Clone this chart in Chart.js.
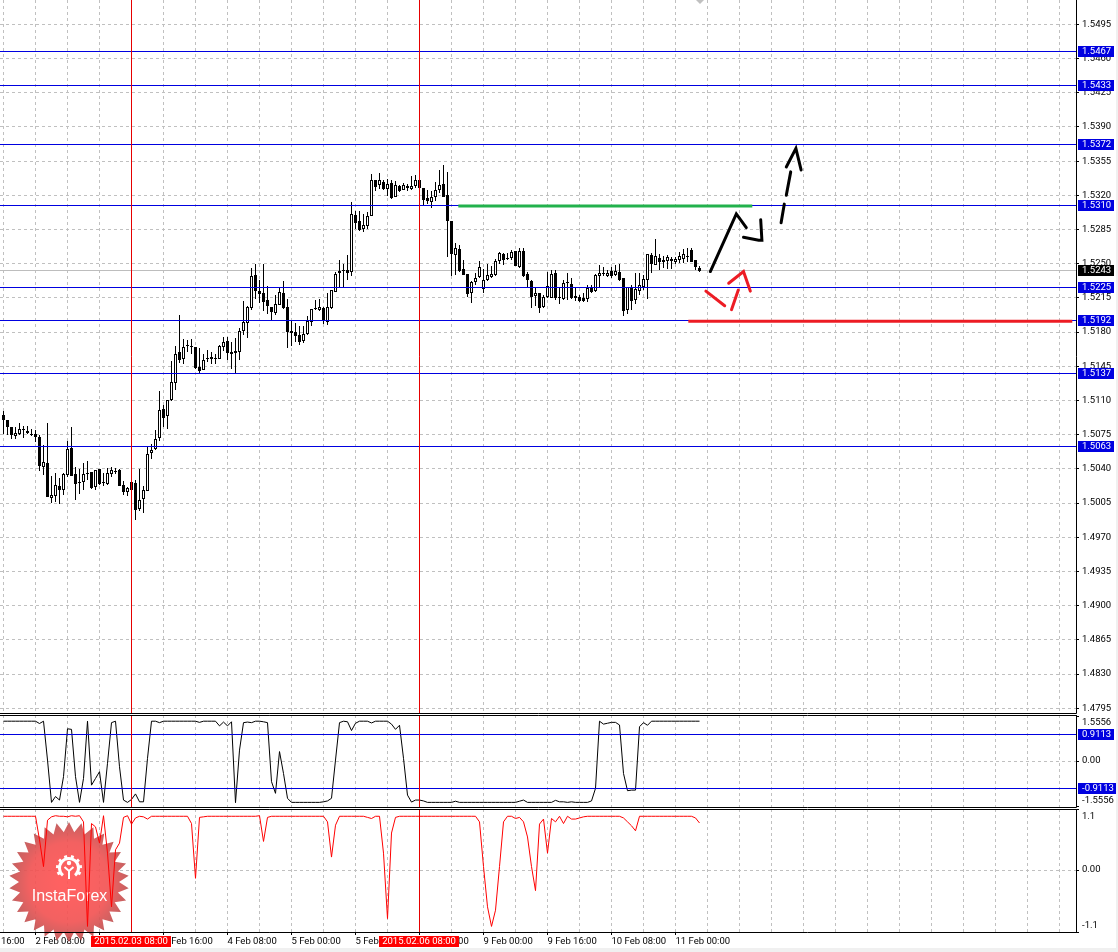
<!DOCTYPE html>
<html>
<head>
<meta charset="utf-8">
<title>GBP/USD H1</title>
<script src="https://cdn.jsdelivr.net/npm/chart.js@4"></script>
<style>
    html, body { margin: 0; padding: 0; background: #f0f0f0; }
    #page { position: relative; width: 1116px; height: 948px; background: #fff; overflow: hidden; }
    canvas { position: absolute; left: 0; }
</style>
</head>
<body>
<div id="page">
    <canvas id="price-chart" width="1118" height="714" style="top:0"></canvas>
    <canvas id="fisher-chart" width="1118" height="93" style="top:715px"></canvas>
    <canvas id="signal-chart" width="1118" height="143" style="top:809px"></canvas>
</div>
<script>
// Candles, one per hour
const opens = [
    1.5095,1.5090,1.5083,1.5074,1.5076,1.5080,1.5079,1.5076,1.5076,1.5073,
    1.5042,1.5046,1.5010,1.5012,1.5023,1.5018,1.5034,1.5061,1.5035,1.5027,
    1.5027,1.5036,1.5037,1.5022,1.5040,1.5027,1.5025,1.5035,1.5037,1.5039,
    1.5024,1.5016,1.5027,1.5026,1.4999,1.5009,1.5017,1.5056,1.5060,1.5072,
    1.5101,1.5094,1.5111,1.5128,1.5160,1.5152,1.5167,1.5166,1.5165,1.5144,
    1.5141,1.5152,1.5155,1.5154,1.5152,1.5165,1.5171,1.5160,1.5161,1.5160,
    1.5181,1.5189,1.5205,1.5238,1.5222,1.5220,1.5213,1.5206,1.5200,1.5208,
    1.5220,1.5206,1.5181,1.5180,1.5177,1.5171,1.5178,1.5190,1.5205,1.5203,
    1.5205,1.5190,1.5205,1.5221,1.5240,1.5244,1.5244,1.5242,1.5300,1.5294,
    1.5286,1.5289,1.5299,1.5336,1.5331,1.5334,1.5326,1.5333,1.5318,1.5330,
    1.5325,1.5330,1.5326,1.5330,1.5336,1.5328,1.5317,1.5313,1.5318,1.5325,
    1.5332,1.5320,1.5294,1.5259,1.5265,1.5245,1.5239,1.5220,1.5231,1.5236,
    1.5224,1.5233,1.5236,1.5238,1.5253,1.5260,1.5256,1.5256,1.5263,1.5247,
    1.5263,1.5239,1.5232,1.5217,1.5220,1.5206,1.5216,1.5215,1.5240,1.5216,
    1.5214,1.5231,1.5229,1.5217,1.5216,1.5215,1.5214,1.5225,1.5222,1.5237,
    1.5241,1.5237,1.5243,1.5238,1.5242,1.5235,1.5203,1.5226,1.5213,1.5222,
    1.5226,1.5233,1.5259,1.5249,1.5256,1.5254,1.5253,1.5255,1.5252,1.5254,
    1.5255,1.5258,1.5264,1.5254,1.5246
];
const highs = [
    1.5099,1.5090,1.5083,1.5083,1.5087,1.5084,1.5084,1.5081,1.5080,1.5075,
    1.5064,1.5087,1.5033,1.5036,1.5031,1.5036,1.5069,1.5083,1.5042,1.5040,
    1.5046,1.5048,1.5037,1.5039,1.5040,1.5036,1.5041,1.5042,1.5041,1.5040,
    1.5028,1.5021,1.5028,1.5029,1.5040,1.5023,1.5063,1.5066,1.5080,1.5120,
    1.5105,1.5111,1.5150,1.5166,1.5198,1.5173,1.5172,1.5173,1.5165,1.5164,
    1.5158,1.5162,1.5160,1.5158,1.5167,1.5175,1.5175,1.5170,1.5174,1.5184,
    1.5212,1.5207,1.5246,1.5250,1.5233,1.5250,1.5227,1.5206,1.5218,1.5226,
    1.5232,1.5214,1.5192,1.5189,1.5186,1.5186,1.5196,1.5204,1.5213,1.5214,
    1.5206,1.5220,1.5223,1.5242,1.5254,1.5250,1.5259,1.5313,1.5304,1.5304,
    1.5301,1.5303,1.5342,1.5336,1.5343,1.5336,1.5337,1.5336,1.5335,1.5331,
    1.5333,1.5332,1.5340,1.5341,1.5342,1.5328,1.5325,1.5324,1.5334,1.5346,
    1.5351,1.5344,1.5294,1.5271,1.5269,1.5254,1.5239,1.5232,1.5240,1.5253,
    1.5245,1.5250,1.5248,1.5255,1.5262,1.5261,1.5261,1.5264,1.5263,1.5266,
    1.5266,1.5242,1.5233,1.5226,1.5220,1.5218,1.5242,1.5244,1.5244,1.5226,
    1.5233,1.5240,1.5235,1.5225,1.5218,1.5220,1.5228,1.5228,1.5239,1.5249,
    1.5247,1.5244,1.5247,1.5249,1.5250,1.5235,1.5226,1.5228,1.5240,1.5240,
    1.5238,1.5260,1.5261,1.5275,1.5260,1.5258,1.5259,1.5257,1.5257,1.5262,
    1.5265,1.5266,1.5266,1.5254,1.5248
];
const lows = [
    1.5076,1.5075,1.5071,1.5071,1.5075,1.5072,1.5076,1.5074,1.5068,1.5038,
    1.5034,1.5011,1.5005,1.5006,1.5004,1.5013,1.5032,1.5033,1.5008,1.5014,
    1.5018,1.5029,1.5019,1.5018,1.5024,1.5023,1.5024,1.5032,1.5035,1.5023,
    1.5013,1.5012,1.5018,1.4988,1.4997,1.4995,1.5017,1.5050,1.5059,1.5069,
    1.5083,1.5081,1.5110,1.5121,1.5148,1.5147,1.5160,1.5158,1.5142,1.5138,
    1.5141,1.5149,1.5147,1.5147,1.5152,1.5161,1.5151,1.5142,1.5138,1.5151,
    1.5177,1.5174,1.5203,1.5214,1.5210,1.5202,1.5199,1.5192,1.5198,1.5208,
    1.5204,1.5164,1.5166,1.5170,1.5167,1.5169,1.5177,1.5186,1.5203,1.5202,
    1.5188,1.5187,1.5204,1.5221,1.5226,1.5226,1.5233,1.5237,1.5286,1.5284,
    1.5282,1.5286,1.5299,1.5324,1.5326,1.5325,1.5319,1.5316,1.5318,1.5323,
    1.5325,1.5324,1.5325,1.5327,1.5325,1.5310,1.5311,1.5307,1.5314,1.5322,
    1.5318,1.5257,1.5237,1.5238,1.5242,1.5238,1.5216,1.5210,1.5228,1.5235,
    1.5220,1.5232,1.5235,1.5237,1.5250,1.5249,1.5254,1.5254,1.5248,1.5246,
    1.5236,1.5225,1.5205,1.5207,1.5200,1.5205,1.5215,1.5215,1.5213,1.5209,
    1.5213,1.5213,1.5214,1.5212,1.5211,1.5211,1.5211,1.5220,1.5221,1.5226,
    1.5237,1.5236,1.5235,1.5237,1.5232,1.5196,1.5199,1.5203,1.5209,1.5218,
    1.5223,1.5214,1.5240,1.5249,1.5244,1.5246,1.5245,1.5245,1.5250,1.5251,
    1.5251,1.5252,1.5252,1.5244,1.5242
];
const closes = [
    1.5090,1.5083,1.5075,1.5077,1.5081,1.5081,1.5077,1.5076,1.5073,1.5043,
    1.5047,1.5011,1.5013,1.5024,1.5018,1.5035,1.5060,1.5033,1.5025,1.5026,
    1.5035,1.5035,1.5020,1.5039,1.5025,1.5026,1.5036,1.5039,1.5038,1.5023,
    1.5016,1.5020,1.5018,1.4998,1.5008,1.5018,1.5055,1.5059,1.5071,1.5100,
    1.5092,1.5111,1.5129,1.5158,1.5151,1.5165,1.5166,1.5165,1.5143,1.5140,
    1.5151,1.5154,1.5153,1.5152,1.5166,1.5170,1.5159,1.5158,1.5159,1.5181,
    1.5190,1.5206,1.5237,1.5222,1.5219,1.5211,1.5207,1.5201,1.5209,1.5221,
    1.5205,1.5180,1.5179,1.5176,1.5170,1.5178,1.5191,1.5204,1.5204,1.5206,
    1.5191,1.5206,1.5223,1.5239,1.5243,1.5243,1.5240,1.5301,1.5292,1.5285,
    1.5290,1.5299,1.5336,1.5329,1.5336,1.5326,1.5332,1.5317,1.5331,1.5324,
    1.5331,1.5327,1.5330,1.5336,1.5327,1.5315,1.5314,1.5318,1.5325,1.5331,
    1.5318,1.5294,1.5260,1.5266,1.5243,1.5238,1.5219,1.5231,1.5235,1.5247,
    1.5233,1.5238,1.5239,1.5253,1.5261,1.5254,1.5255,1.5262,1.5248,1.5263,
    1.5237,1.5233,1.5216,1.5220,1.5205,1.5216,1.5227,1.5239,1.5215,1.5215,
    1.5230,1.5230,1.5215,1.5215,1.5212,1.5212,1.5225,1.5221,1.5238,1.5240,
    1.5240,1.5241,1.5237,1.5243,1.5233,1.5202,1.5226,1.5212,1.5224,1.5228,
    1.5234,1.5260,1.5250,1.5258,1.5252,1.5252,1.5257,1.5253,1.5255,1.5258,
    1.5260,1.5257,1.5252,1.5247,1.5243
];

// Indicator panels
const fisherValues = [
    1.38,1.38,1.38,1.38,1.38,1.38,1.38,1.38,1.38,1.30,
    1.38,0.05,-1.40,-1.20,-1.32,-0.52,1.12,1.10,-0.52,-1.40,
    -0.58,1.38,-0.81,-0.58,-0.35,-1.40,-0.06,1.33,1.38,-0.18,
    -1.32,-1.40,-1.30,-1.11,-1.38,-1.38,0.11,1.38,1.38,1.33,
    1.38,1.38,1.38,1.38,1.38,1.38,1.38,1.38,1.38,1.34,
    1.38,1.38,1.38,1.38,1.22,1.35,1.22,1.36,-1.41,0.39,
    1.33,1.35,1.33,1.38,1.38,1.36,1.33,-0.69,-1.09,0.34,
    -0.41,-1.26,-1.40,-1.40,-1.40,-1.40,-1.40,-1.40,-1.40,-1.40,
    -1.38,-1.35,-1.26,0.05,1.33,1.38,1.36,1.06,1.31,1.38,
    1.38,1.38,1.32,1.38,1.38,1.38,1.38,1.28,1.10,1.24,
    0.11,-1.15,-1.39,-1.32,-1.32,-1.35,-1.40,-1.40,-1.40,-1.40,
    -1.40,-1.40,-1.40,-1.36,-1.40,-1.40,-1.40,-1.40,-1.40,-1.40,
    -1.40,-1.40,-1.40,-1.40,-1.40,-1.40,-1.40,-1.40,-1.40,-1.36,
    -1.32,-1.40,-1.40,-1.40,-1.40,-1.40,-1.40,-1.40,-1.33,-1.38,
    -1.38,-1.40,-1.38,-1.40,-1.40,-1.40,-1.40,-1.35,-0.92,1.38,
    1.28,1.31,1.34,1.34,1.25,-0.41,-1.00,-0.98,-0.98,1.19,
    1.33,1.24,1.38,1.38,1.38,1.38,1.38,1.38,1.38,1.38,
    1.38,1.38,1.38,1.38,1.38
];
const signalValues = [
    0.97,0.97,0.97,0.97,0.97,0.97,0.97,0.97,0.97,0.55,
    0.07,0.90,0.96,0.98,0.97,0.97,0.96,0.98,0.97,0.98,
    0.87,-1.00,0.84,0.78,0.49,0.98,0.31,-0.65,0.37,0.49,
    0.95,0.98,0.83,0.94,0.97,0.96,0.92,0.97,0.97,0.97,
    0.97,0.97,0.97,0.97,0.97,0.97,0.97,0.84,-0.14,0.95,
    0.96,0.97,0.97,0.97,0.97,0.97,0.97,0.97,0.97,0.97,
    0.97,0.97,0.97,0.97,0.98,0.52,0.95,0.97,0.97,0.97,
    0.97,0.97,0.97,0.97,0.97,0.97,0.97,0.97,0.97,0.97,
    0.97,0.87,0.24,0.81,0.97,0.97,0.97,0.97,0.97,0.97,
    0.97,0.95,0.93,0.97,0.97,0.31,-0.86,0.67,0.95,0.97,
    0.97,0.97,0.97,0.97,0.97,0.97,0.97,0.97,0.97,0.97,
    0.97,0.97,0.97,0.97,0.97,0.97,0.97,0.97,0.97,0.87,
    0.07,-0.65,-1.00,-0.71,0.07,0.87,0.97,0.97,0.93,0.95,
    0.87,0.60,0.07,-0.36,0.83,0.92,0.31,0.93,0.87,0.97,
    0.84,0.97,0.92,0.92,0.94,0.96,0.97,0.97,0.97,0.97,
    0.97,0.97,0.97,0.97,0.97,0.94,0.87,0.80,0.71,0.97,
    0.97,0.97,0.97,0.97,0.97,0.97,0.97,0.97,0.97,0.97,
    0.97,0.97,0.97,0.94,0.85
];

// Axis ticks
const priceTicks = [1.5495,1.5460,1.5425,1.5390,1.5355,1.5320,1.5285,1.5250,1.5215,1.5180,1.5145,1.5110,1.5075,1.5040,1.5005,1.4970,1.4935,1.4900,1.4865,1.4830,1.4795];
const fisherTicks = [1.5556, 0, -1.5556];
const signalTicks = [1.1, 0, -1.1];
const timeTickIndex = [8,24,40,56,72,88,104,120,136,152,168];
const timeTickLabels = ['2 Feb 08:00','3 Feb 00:00','3 Feb 16:00','4 Feb 08:00','5 Feb 00:00','5 Feb 16:00','6 Feb 08:00','9 Feb 00:00','9 Feb 16:00','10 Feb 08:00','11 Feb 00:00'];
const crossIndex = [32, 104];
const crossLabels = ['2015.02.03 08:00', '2015.02.06 08:00'];

// Horizontal levels and hand drawn marks
const priceLevels = [1.5467,1.54328,1.5372,1.5310,1.52254,1.5192,1.51374,1.5063];
const fisherLevels = [0.9113,-0.9113];
const lastPrice = 1.5243;
const greenLine = [[113.7,1.5309],[187.2,1.5309]];
const redLine = [[171.2,1.5191],[267.2,1.5191]];
const blackStrokes = [
    [[176.7,1.5242],[183.2,1.5301],[185.7,1.5287]],
    [[185.0,1.5277],[188.8,1.5274],[189.6,1.5274],[189.3,1.5295]],
    [[194.4,1.5292],[195.2,1.5311]],
    [[195.7,1.5320],[196.8,1.5344]],
    [[195.7,1.5349],[198.1,1.5368],[199.4,1.5346]]
];
const redStrokes = [
    [[175.6,1.5222],[180.3,1.5207]],
    [[182.0,1.5203],[183.7,1.5223]],
    [[181.3,1.5230],[185.0,1.5242],[186.7,1.5222]]
];

const FONT = 'Roboto';
const FONT_SIZE = 9.5;
const LABEL_FONT = FONT_SIZE + 'px ' + FONT;
const GRID = '#c0c0c0';
const BLUE = '#0000e0';
const X_MIN = -0.875, X_MAX = 268.125;
const gridTicks = [];
for (let i = 0; i <= 264; i += 8) gridTicks.push(i);

Chart.defaults.font.family = FONT;
Chart.defaults.font.size = FONT_SIZE;
Chart.defaults.color = '#000';
Chart.defaults.animation = false;

const indexes = opens.map((_, i) => i);
const toPoints = pts => pts.map(p => ({ x: p[0], y: p[1] }));
const hLine = y => [{ x: X_MIN, y }, { x: X_MAX, y }];
const crossLines = (min, max) => crossIndex.map(i => ({
    type: 'line', data: [{ x: i, y: min }, { x: i, y: max }], borderColor: '#e60000',
    borderWidth: 1, pointRadius: 0, order: 1, snap: true
}));

// Move bars and straight lines to whole pixels, otherwise they come out blurred
const snapPixels = {
    id: 'snapPixels',
    afterDatasetsUpdate(chart) {
        chart.data.datasets.forEach((ds, n) => {
            const meta = chart.getDatasetMeta(n);
            if (meta.type === 'bar') {
                meta.data.forEach(el => {
                    const top = Math.round(Math.min(el.y, el.base));
                    const bottom = Math.round(Math.max(el.y, el.base));
                    el.y = top;
                    el.base = Math.max(bottom, top + 1);
                });
            } else if (ds.snap) {
                meta.data.forEach(p => { p.y = Math.floor(p.y) + 0.5; });
            }
        });
    }
};

function drawBadge(ctx, scale, value, color) {
    const y = Math.floor(scale.getPixelForValue(value));
    const text = value.toFixed(4);
    ctx.fillStyle = color;
    ctx.fillRect(1078, y - 5, value < 0 ? 38 : 36, 11);
    ctx.fillStyle = '#fff';
    ctx.font = LABEL_FONT;
    ctx.textAlign = 'left';
    ctx.textBaseline = 'middle';
    ctx.fillText(text, 1082, y + 0.5);
}

function frame(chart, withTop) {
    const { ctx, chartArea: a } = chart;
    ctx.save();
    ctx.strokeStyle = '#000';
    ctx.lineWidth = 1;
    ctx.beginPath();
    if (withTop) { ctx.moveTo(0, a.top + 0.5); ctx.lineTo(a.right + 0.5, a.top + 0.5); }
    ctx.moveTo(a.right + 0.5, a.top);
    ctx.lineTo(a.right + 0.5, a.bottom + 0.5);
    ctx.lineTo(0, a.bottom + 0.5);
    ctx.stroke();
    ctx.restore();
}

// Labels of the two lower panels sit inside the panel, not on the tick
function edgeLabels(chart, ticks, text, shift) {
    const { ctx, scales } = chart;
    ctx.save();
    ctx.font = LABEL_FONT;
    ctx.fillStyle = '#000';
    ctx.textAlign = 'left';
    ctx.textBaseline = 'middle';
    ticks.forEach((v, i) => ctx.fillText(text(v), 1082, scales.y.getPixelForValue(v) + shift[i]));
    ctx.restore();
}

function noPadding(s) {
    s.paddingLeft = s.paddingRight = s.paddingTop = s.paddingBottom = 0;
}

function xScale(opts) {
    return Object.assign({
        type: 'linear', min: X_MIN, max: X_MAX, offset: false,
        afterBuildTicks: s => { s.ticks = gridTicks.map(value => ({ value })); },
        afterFit: s => { s.height = 0; noPadding(s); },
        border: { display: false, dash: [3, 3] },
        grid: { color: GRID, drawTicks: false, offset: false },
        ticks: { display: false, autoSkip: false }
    }, opts);
}

function yScale(min, max, ticks, opts) {
    return Object.assign({
        position: 'right', min, max,
        afterBuildTicks: s => { s.ticks = ticks.map(value => ({ value })); },
        afterFit: s => { s.width = 42; noPadding(s); },
        border: { display: false, dash: [3, 3] },
        grid: {
            color: c => (c.tick && (ticks.length > 3 || c.tick.value === 0)) ? GRID : 'rgba(0,0,0,0)',
            tickColor: '#000', tickLength: 3
        },
        ticks: { display: false }
    }, opts);
}

const baseOptions = {
    responsive: false,
    maintainAspectRatio: false,
    layout: { padding: { bottom: 1 } },
    plugins: { legend: { display: false }, tooltip: { enabled: false } }
};

// Price panel
new Chart(document.getElementById('price-chart'), {
    type: 'bar',
    data: {
        datasets: [
            {
                type: 'line', data: hLine(lastPrice), borderColor: '#bdbdbd', borderWidth: 1,
                pointRadius: 0, order: 6, snap: true
            },
            {
                data: indexes.map(i => ({ x: i, y: [lows[i], highs[i]] })), backgroundColor: '#000',
                barThickness: 1, grouped: false, inflateAmount: 0, borderWidth: 0, order: 5
            },
            {
                data: indexes.map(i => ({ x: i, y: [opens[i], closes[i]] })),
                backgroundColor: indexes.map(i => closes[i] < opens[i] ? '#000' : '#fff'),
                borderColor: '#000', borderWidth: 1, borderSkipped: false,
                barThickness: 3, grouped: false, inflateAmount: 0, order: 4
            },
            ...priceLevels.map(v => ({
                type: 'line', data: hLine(v), borderColor: BLUE, borderWidth: 1,
                pointRadius: 0, order: 3, snap: true
            })),
            ...crossLines(1.47, 1.56),
            ...[[greenLine, '#22b14c'], [redLine, '#ed1c24']].map(([pts, color]) => ({
                type: 'line', data: toPoints(pts), borderColor: color, borderWidth: 3,
                pointRadius: 0, order: 2
            })),
            ...blackStrokes.map(s => ({
                type: 'line', data: toPoints(s), borderColor: '#000', borderWidth: 3,
                pointRadius: 0, order: 0, borderCapStyle: 'round'
            })),
            ...redStrokes.map(s => ({
                type: 'line', data: toPoints(s), borderColor: '#ed1c24', borderWidth: 3,
                pointRadius: 0, order: 0, borderCapStyle: 'round'
            }))
        ]
    },
    options: Object.assign({}, baseOptions, {
        scales: {
            x: xScale(),
            y: yScale(1.47902, 1.55199, priceTicks, {
                ticks: { autoSkip: false, padding: 3, callback: v => v.toFixed(4) }
            })
        }
    }),
    plugins: [snapPixels, {
        id: 'priceExtras',
        afterDraw(chart) {
            const { ctx, scales } = chart;
            frame(chart, false);
            ctx.save();
            priceLevels.forEach(v => drawBadge(ctx, scales.y, v, BLUE));
            drawBadge(ctx, scales.y, lastPrice, '#000');
            // small chart shift marker at the top edge
            ctx.fillStyle = '#c0c0c0';
            ctx.beginPath();
            ctx.moveTo(696, 0);
            ctx.lineTo(704, 0);
            ctx.lineTo(700, 4);
            ctx.fill();
            ctx.restore();
        }
    }]
});

// Fisher panel
new Chart(document.getElementById('fisher-chart'), {
    type: 'line',
    data: {
        datasets: [
            {
                data: indexes.map(i => ({ x: i, y: fisherValues[i] })), borderColor: '#000',
                borderWidth: 1, pointRadius: 0, order: 3
            },
            ...fisherLevels.map(v => ({
                type: 'line', data: hLine(v), borderColor: BLUE, borderWidth: 1,
                pointRadius: 0, order: 2, snap: true
            })),
            ...crossLines(-2, 2)
        ]
    },
    options: Object.assign({}, baseOptions, {
        scales: { x: xScale(), y: yScale(-1.558, 1.592, fisherTicks) }
    }),
    plugins: [snapPixels, {
        id: 'fisherExtras',
        afterDraw(chart) {
            frame(chart, true);
            edgeLabels(chart, fisherTicks, v => v === 0 ? '0.00' : v.toFixed(4), [7, -0.5, -6]);
            chart.ctx.save();
            fisherLevels.forEach(v => drawBadge(chart.ctx, chart.scales.y, v, BLUE));
            chart.ctx.restore();
        }
    }]
});

// Watermark, under the red line
function drawBurst(ctx) {
    const cx = 69, cy = 73, spikes = 30;
    ctx.save();
    ctx.globalAlpha = 0.9;
    const fill = ctx.createRadialGradient(cx, cy, 10, cx, cy, 60);
    fill.addColorStop(0, '#ff5050');
    fill.addColorStop(0.6, '#f25050');
    fill.addColorStop(1, '#bd5050');
    ctx.fillStyle = fill;
    ctx.beginPath();
    for (let i = 0; i < spikes * 2; i++) {
        const r = i % 2 ? 50 : 60;
        const a = i * Math.PI / spikes - Math.PI / 2;
        ctx.lineTo(cx + r * Math.cos(a), cy + r * Math.sin(a));
    }
    ctx.closePath();
    ctx.fill();
    ctx.globalAlpha = 1;
    // gear
    ctx.strokeStyle = '#fff';
    ctx.fillStyle = '#fff';
    ctx.lineWidth = 3;
    ctx.setLineDash([]);
    ctx.beginPath();
    ctx.arc(cx, cy - 14, 9.5, Math.PI * 0.72, Math.PI * 2.28);
    ctx.stroke();
    for (let i = 0; i < 8; i++) {
        const a = Math.PI * 0.85 + i * Math.PI * 1.3 / 7;
        ctx.beginPath();
        ctx.moveTo(cx + 10 * Math.cos(a), cy - 14 + 10 * Math.sin(a));
        ctx.lineTo(cx + 13 * Math.cos(a), cy - 14 + 13 * Math.sin(a));
        ctx.stroke();
    }
    ctx.beginPath();
    ctx.arc(cx, cy - 19, 2.2, 0, Math.PI * 2);
    ctx.fill();
    ctx.lineWidth = 2;
    ctx.beginPath();
    ctx.moveTo(cx - 4.5, cy - 15);
    ctx.lineTo(cx, cy - 11);
    ctx.lineTo(cx + 4.5, cy - 15);
    ctx.moveTo(cx, cy - 11);
    ctx.lineTo(cx, cy - 3);
    ctx.stroke();
    ctx.font = '16px "Liberation Sans"';
    ctx.textAlign = 'center';
    ctx.textBaseline = 'alphabetic';
    ctx.fillText('InstaForex', cx + 0.5, cy + 18.5);
    ctx.restore();
}

// Signal panel, carries the time axis
new Chart(document.getElementById('signal-chart'), {
    type: 'line',
    data: {
        datasets: [
            {
                data: indexes.map(i => ({ x: i, y: signalValues[i] })), borderColor: '#ff0000',
                borderWidth: 1, pointRadius: 0, order: 3
            },
            ...crossLines(-2, 2)
        ]
    },
    options: Object.assign({}, baseOptions, {
        layout: { padding: 0 },
        scales: {
            x: xScale({
                afterFit: s => { s.height = 20; noPadding(s); },
                grid: {
                    color: GRID, tickLength: 3,
                    tickColor: c => timeTickIndex.includes(c.tick && c.tick.value) ? '#000' : 'rgba(0,0,0,0)'
                },
                ticks: {
                    display: true, autoSkip: false, maxRotation: 0, align: 'start', padding: 1,
                    callback: v => timeTickLabels[timeTickIndex.indexOf(v)] || ''
                }
            }),
            y: yScale(-1.1, 1.1, signalTicks)
        }
    }),
    plugins: [snapPixels, {
        id: 'signalExtras',
        beforeDatasetsDraw(chart) { drawBurst(chart.ctx); },
        afterDraw(chart) {
            const { ctx, scales } = chart;
            frame(chart, true);
            edgeLabels(chart, signalTicks, v => v === 0 ? '0.00' : String(v), [8, -0.5, -6]);
            ctx.save();
            ctx.font = LABEL_FONT;
            ctx.textBaseline = 'middle';
            ctx.fillStyle = '#000';
            ctx.textAlign = 'left';
            ctx.fillText('16:00', 1, 132.5);
            crossIndex.forEach((i, n) => {
                const x = Math.floor(scales.x.getPixelForValue(i));
                ctx.fillStyle = '#ff0000';
                ctx.fillRect(x - 40, 127, 80, 11);
                ctx.fillStyle = '#fff';
                ctx.textAlign = 'center';
                ctx.fillText(crossLabels[n], x, 132.5);
            });
            ctx.restore();
        }
    }]
});
</script>
</body>
</html>
